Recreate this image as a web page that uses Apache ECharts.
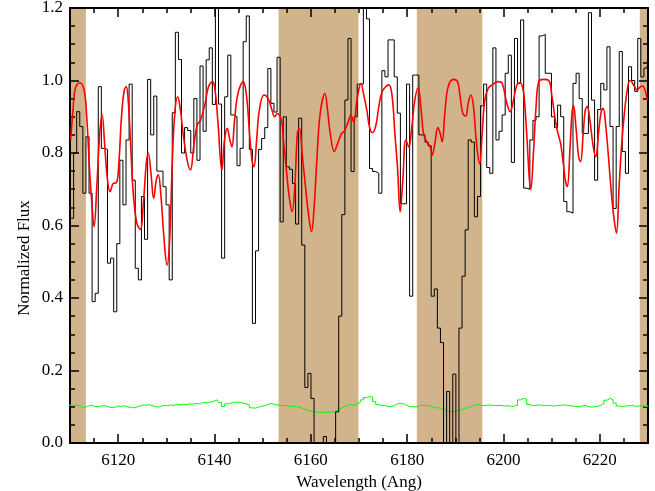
<!DOCTYPE html>
<html>
<head>
<meta charset="utf-8">
<script src="https://cdn.jsdelivr.net/npm/echarts@6/dist/echarts.min.js"></script>
<style>html,body{margin:0;padding:0;background:#fff;}#chart{width:655px;height:491px;}</style>
</head>
<body>
<div id="chart"></div>
<script>
// ---- data ----
const binStart = 6109.79;   // centre of first spectral bin (Angstrom)
const binWidth = 0.64;      // bin width (Angstrom)
const flux = [
  0.56,0.62,0.80,0.914,0.873,0.689,0.845,0.689,0.39,0.413,
  0.983,0.813,0.81,0.496,0.51,0.362,0.55,0.78,0.657,0.836,
  0.99,0.725,0.482,0.45,0.68,0.562,1.003,0.85,0.957,0.75,
  0.75,0.707,0.657,0.45,0.911,1.133,1.058,0.80,0.87,0.862,
  0.80,0.95,0.78,1.04,0.86,1.057,1.09,0.934,1.25,0.935,
  0.51,0.955,1.07,0.905,0.90,0.765,0.813,1.107,1.178,0.81,
  0.33,0.53,0.81,0.84,0.87,1.033,0.937,0.913,1.064,0.61,
  0.90,0.762,0.755,0.716,0.604,0.896,0.546,0.153,0.192,0.123,
  -0.02,-0.02,-0.02,0.018,-0.02,-0.02,-0.02,0.086,0.35,0.63,
  0.946,1.116,0.749,0.90,0.99,0.99,1.25,1.17,0.757,0.749,
  0.744,0.689,1.027,1.01,1.112,1.112,1.01,0.91,0.66,0.66,
  0.99,0.405,1.015,1.015,0.85,0.85,0.83,0.82,0.405,0.425,
  0.317,0.277,-0.02,0.142,-0.02,0.19,-0.02,0.317,0.46,0.588,
  0.836,0.83,0.624,0.68,0.93,0.99,0.76,0.744,1.09,0.836,
  0.86,0.905,1.02,1.07,0.774,1.116,0.992,1.167,0.703,0.70,
  0.836,0.89,0.90,1.123,1.127,1.02,1.02,0.90,0.87,0.932,
  0.90,0.666,0.638,0.634,0.992,1.02,0.95,0.854,0.854,1.187,
  0.946,0.725,0.92,0.992,0.974,1.093,0.873,0.647,0.873,1.08,
  0.804,0.744,1.038,1.0,0.97,1.116,1.01,1.034,1.04
];
const noise = [
  0.104,0.105,0.103,0.104,0.100,0.098,0.101,0.104,0.102,0.100,
  0.101,0.103,0.102,0.099,0.097,0.099,0.102,0.101,0.103,0.100,
  0.098,0.097,0.099,0.102,0.105,0.104,0.106,0.103,0.101,0.099,
  0.102,0.104,0.103,0.105,0.104,0.106,0.105,0.107,0.106,0.108,
  0.107,0.109,0.108,0.110,0.112,0.111,0.113,0.115,0.119,0.112,
  0.101,0.108,0.110,0.112,0.113,0.112,0.110,0.108,0.105,0.097,
  0.096,0.099,0.101,0.103,0.106,0.109,0.107,0.105,0.104,0.103,
  0.104,0.102,0.100,0.101,0.099,0.097,0.093,0.090,0.088,0.086,
  0.085,0.085,0.084,0.085,0.085,0.086,0.088,0.092,0.097,0.101,
  0.104,0.106,0.104,0.108,0.112,0.119,0.125,0.128,0.127,0.114,
  0.106,0.104,0.103,0.101,0.100,0.103,0.108,0.109,0.108,0.104,
  0.100,0.101,0.099,0.103,0.104,0.103,0.104,0.101,0.098,0.097,
  0.096,0.093,0.089,0.087,0.086,0.087,0.089,0.092,0.096,0.097,
  0.101,0.104,0.106,0.104,0.103,0.104,0.105,0.104,0.103,0.104,
  0.103,0.102,0.103,0.101,0.102,0.104,0.119,0.123,0.121,0.106,
  0.103,0.104,0.105,0.104,0.103,0.104,0.103,0.102,0.103,0.104,
  0.105,0.104,0.103,0.102,0.101,0.100,0.102,0.104,0.101,0.099,
  0.100,0.101,0.104,0.108,0.118,0.123,0.119,0.110,0.102,0.100,
  0.102,0.103,0.103,0.102,0.101,0.103,0.102,0.101,0.102
];
const modelWave = [
  6110.14,6110.63,6111.11,6112.01,6112.92,6113.47,6114.03,6114.58,6115.00,6115.56,
  6116.18,6116.67,6117.22,6117.78,6118.33,6118.96,6119.65,6120.14,6120.69,6121.25,
  6121.67,6122.08,6122.64,6123.19,6123.89,6124.58,6125.28,6125.83,6126.25,6126.81,
  6127.36,6127.92,6128.33,6128.89,6129.44,6130.14,6130.69,6131.25,6131.81,6132.36,
  6132.92,6133.47,6134.31,6135.00,6135.69,6136.39,6137.08,6138.06,6138.75,6139.58,
  6140.10,6140.69,6141.53,6142.08,6142.64,6143.19,6143.61,6144.17,6144.86,6145.97,
  6146.67,6147.22,6147.78,6148.19,6148.75,6149.31,6150.28,6151.11,6151.94,6152.50,
  6153.06,6153.89,6154.31,6154.86,6155.42,6156.11,6156.67,6157.22,6157.64,6158.19,
  6158.89,6159.58,6160.14,6160.69,6161.25,6161.94,6162.92,6163.47,6164.03,6164.86,
  6165.56,6166.39,6166.94,6167.64,6168.33,6168.89,6169.58,6170.42,6170.93,6171.63,
  6172.18,6172.73,6173.43,6174.12,6174.81,6176.19,6176.89,6177.44,6177.99,6178.55,
  6179.10,6179.72,6180.35,6180.90,6181.59,6182.28,6182.84,6183.39,6184.08,6184.78,
  6185.19,6185.74,6186.37,6186.85,6187.27,6187.82,6188.51,6189.62,6190.45,6191.00,
  6191.56,6192.18,6192.66,6193.22,6193.77,6194.33,6195.02,6195.57,6196.12,6196.82,
  6197.65,6198.89,6199.72,6200.69,6201.38,6202.07,6202.76,6203.45,6204.14,6204.55,
  6204.97,6205.38,6205.66,6206.21,6206.76,6207.31,6208.28,6209.38,6210.07,6210.76,
  6211.31,6211.86,6212.41,6212.83,6213.24,6213.79,6214.21,6214.55,6215.03,6215.59,
  6216.00,6216.55,6216.97,6217.38,6217.93,6218.62,6219.17,6219.72,6220.28,6220.69,
  6221.24,6221.79,6222.34,6222.90,6223.45,6224.00,6224.55,6225.24,6225.93,6226.34,
  6227.03,6227.72,6228.28,6228.83,6229.38,6229.86
];
const modelFlux = [
  0.836,0.919,0.979,0.994,0.974,0.900,0.762,0.652,0.597,0.707,
  0.855,0.905,0.818,0.726,0.693,0.716,0.718,0.771,0.900,0.973,
  0.983,0.946,0.808,0.679,0.606,0.589,0.670,0.771,0.800,0.744,
  0.675,0.726,0.740,0.680,0.578,0.491,0.560,0.780,0.918,0.955,
  0.918,0.855,0.781,0.753,0.818,0.877,0.890,0.937,0.983,0.997,
  0.975,0.890,0.753,0.836,0.868,0.836,0.817,0.890,0.964,0.997,
  0.955,0.864,0.781,0.762,0.836,0.918,0.960,0.951,0.918,0.900,
  0.909,0.890,0.836,0.762,0.689,0.638,0.707,0.855,0.868,0.799,
  0.707,0.624,0.583,0.652,0.781,0.909,0.964,0.918,0.855,0.804,
  0.826,0.854,0.860,0.881,0.905,0.885,0.946,0.992,0.964,0.918,
  0.872,0.856,0.872,0.928,0.969,0.988,0.955,0.854,0.762,0.638,
  0.726,0.836,0.817,0.864,0.946,0.980,0.928,0.854,0.831,0.817,
  0.794,0.826,0.870,0.854,0.831,0.909,0.983,1.003,0.997,0.955,
  0.909,0.902,0.937,0.960,0.928,0.836,0.770,0.854,0.946,0.978,
  0.988,0.997,0.992,0.937,0.914,0.946,0.987,0.994,0.969,0.909,
  0.818,0.726,0.700,0.799,0.928,0.997,1.003,1.000,0.955,0.891,
  0.854,0.826,0.771,0.726,0.707,0.808,0.909,0.930,0.873,0.790,
  0.776,0.854,0.918,0.928,0.891,0.818,0.790,0.854,0.914,0.923,
  0.873,0.790,0.698,0.624,0.579,0.707,0.826,0.928,0.992,1.000,
  0.987,0.974,0.981,0.985,0.974,0.946
];
const bands = [[6110, 6113.3], [6153.3, 6169.9], [6182.0, 6195.6], [6228.3, 6230]];

// ---- build chart ----
const FONT = '"Liberation Serif", "DejaVu Serif", serif';
const xMin = 6110, xMax = 6230;
const fluxData = flux.map((v, i) => [binStart + i * binWidth, v]);
const noiseData = noise.map((v, i) => [binStart + i * binWidth, v]);
const modelData = modelWave.map((w, i) => [w, modelFlux[i]]);
const GRID = { left: 70, right: 7, top: 8, bottom: 48, containLabel: false, outerBoundsMode: 'none' };

// grid 0: data + labels; grid 1 (same rectangle): frame and tick marks only
function frameX(pos, major) {
  const a = {
    type: 'value', gridIndex: 1, position: pos, min: xMin, max: xMax, z: 3,
    axisLine: { show: true, onZero: false, lineStyle: { color: '#000', width: 2 } },
    splitLine: { show: false },
    axisTick: { show: true, inside: true, length: major ? 9 : 5, lineStyle: { color: '#000', width: 1.5 } },
    axisLabel: { show: false }
  };
  if (major) a.splitNumber = 6; else a.interval = 5;
  return a;
}
function frameY(pos) {
  return {
    type: 'value', gridIndex: 1, position: pos, min: 0, max: 1.2, interval: 0.2, z: 3,
    axisLine: { show: true, onZero: false, lineStyle: { color: '#000', width: 2 } },
    splitLine: { show: false },
    axisTick: { show: true, inside: true, length: 9, lineStyle: { color: '#000', width: 1.5 } },
    minorTick: { show: true, splitNumber: 4, length: 5, lineStyle: { color: '#000', width: 1.5 } },
    axisLabel: { show: false }
  };
}

const chart = echarts.init(document.getElementById('chart'));
chart.setOption({
  animation: false,
  backgroundColor: '#fff',
  grid: [Object.assign({}, GRID), Object.assign({}, GRID)],
  xAxis: [
    {
      type: 'value', gridIndex: 0, position: 'bottom', min: xMin, max: xMax, splitNumber: 6,
      axisLine: { show: false }, axisTick: { show: false }, splitLine: { show: false },
      axisLabel: { show: true, showMinLabel: false, showMaxLabel: false, margin: 9, color: '#000',
                   fontFamily: FONT, fontSize: 17, formatter: v => String(Math.round(v)) },
      name: 'Wavelength (Ang)', nameLocation: 'middle', nameGap: 27,
      nameTextStyle: { color: '#000', fontFamily: FONT, fontSize: 17 }
    },
    frameX('bottom', false), frameX('bottom', true), frameX('top', false), frameX('top', true)
  ],
  yAxis: [
    {
      type: 'value', gridIndex: 0, position: 'left', min: 0, max: 1.2, interval: 0.2,
      axisLine: { show: false }, axisTick: { show: false }, splitLine: { show: false },
      axisLabel: { show: true, margin: 7, color: '#000', fontFamily: FONT, fontSize: 17,
                   formatter: v => v.toFixed(1) }
    },
    frameY('left'), frameY('right')
  ],
  graphic: [{
    type: 'text', x: 25, y: 258, rotation: Math.PI / 2,
    style: { text: 'Normalized Flux', fill: '#000', font: '17px ' + FONT,
             align: 'center', verticalAlign: 'middle' }
  }],
  series: [
    {
      type: 'line', xAxisIndex: 0, yAxisIndex: 0, data: [],
      markArea: { itemStyle: { color: '#D2B48C' },
                  data: bands.map(b => [{ xAxis: b[0] }, { xAxis: b[1] }]) }
    },
    {
      type: 'line', xAxisIndex: 0, yAxisIndex: 0, data: noiseData, step: 'middle', showSymbol: false,
      lineStyle: { color: '#00ff00', width: 1 }
    },
    {
      type: 'line', xAxisIndex: 0, yAxisIndex: 0, data: fluxData, step: 'middle', showSymbol: false,
      lineStyle: { color: '#000', width: 1 }
    },
    {
      type: 'line', xAxisIndex: 0, yAxisIndex: 0, data: modelData, smooth: 0.4, showSymbol: false,
      lineStyle: { color: '#ff0000', width: 1.6 }
    }
  ]
});
</script>
</body>
</html>
